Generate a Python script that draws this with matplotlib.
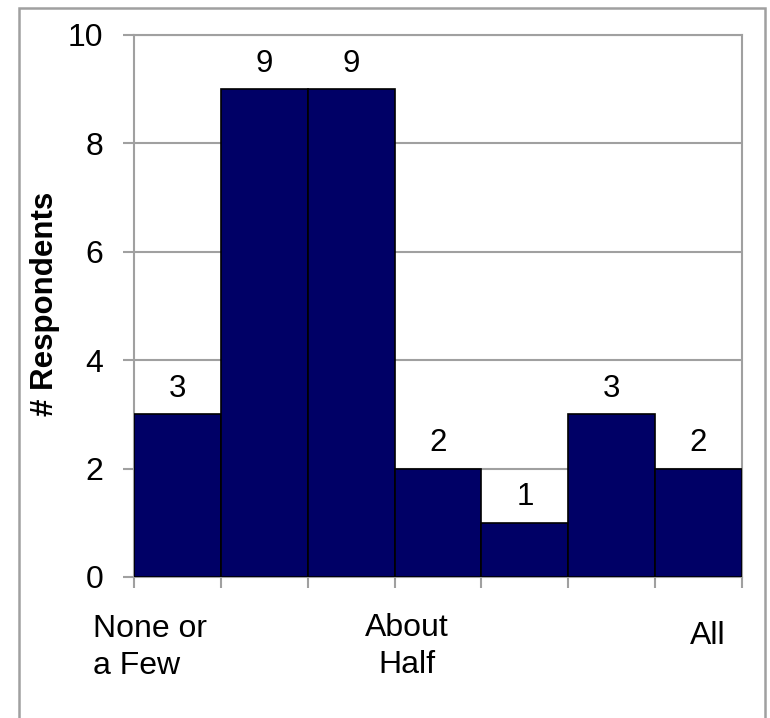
"""Histogram of survey answers: how many respondents picked each level."""
import matplotlib
matplotlib.use("Agg")
import matplotlib.pyplot as plt
from matplotlib.patches import Rectangle

plt.rcParams["font.family"] = ["Liberation Sans", "DejaVu Sans"]

levels = [0, 1, 2, 3, 4, 5, 6]
counts = [3, 9, 9, 2, 1, 3, 2]

# scale labels: text, x position (data units), alignment, downward offset (pt)
scale_labels = ["None or\na Few", "About\nHalf", "All"]
scale_x = [-0.97, 2.64, 6.1]
scale_ha = ["left", "center", "center"]
scale_dy = [-26.5, -26, -32]

GRAY = "#a0a0a0"
NAVY = "#000066"

fig = plt.figure(figsize=(7.7, 7.18), dpi=100)
ax = fig.add_axes([134 / 770, 141 / 718, 608 / 770, 542 / 718])

ax.bar(levels, counts, width=1.0, color=NAVY, edgecolor="black", linewidth=1.2, zorder=3)

for x, v in zip(levels, counts):
    ax.annotate(str(v), xy=(x, v), xytext=(0, 12.5), textcoords="offset points",
                ha="center", va="baseline", fontsize=22.5)

ax.set_xlim(-0.5, 6.5)
ax.set_ylim(0, 10)
ax.set_yticks([0, 2, 4, 6, 8, 10])
ax.set_xticks([x - 0.5 for x in levels] + [6.5])
ax.set_xticklabels([])
ax.tick_params(axis="y", direction="out", length=8, width=1.5, color=GRAY,
               labelsize=23, pad=14)
ax.tick_params(axis="x", direction="out", length=8, width=1.5, color=GRAY)
ax.yaxis.grid(True, color=GRAY, linewidth=1.5, zorder=0)
for side in ["left", "bottom", "right", "top"]:
    ax.spines[side].set_color(GRAY)
    ax.spines[side].set_linewidth(1.5)

for text, x, ha, dy in zip(scale_labels, scale_x, scale_ha, scale_dy):
    ax.annotate(text, xy=(x, 0), xycoords=("data", "axes fraction"),
                xytext=(0, dy), textcoords="offset points",
                ha=ha, va="top", multialignment=ha, fontsize=23,
                linespacing=1.3, annotation_clip=False)

fig.text(45 / 770, 1 - 304 / 718, "# Respondents", rotation=90,
         ha="center", va="center", fontsize=22.5, fontweight="bold")

# outer frame round the whole chart (runs off the bottom edge)
fig.patches.append(Rectangle((19 / 770, -0.02), 746 / 770, 1.02 - 8 / 718,
                             transform=fig.transFigure, fill=False,
                             edgecolor=GRAY, linewidth=1.8))

fig.savefig("out.png", dpi=100)
